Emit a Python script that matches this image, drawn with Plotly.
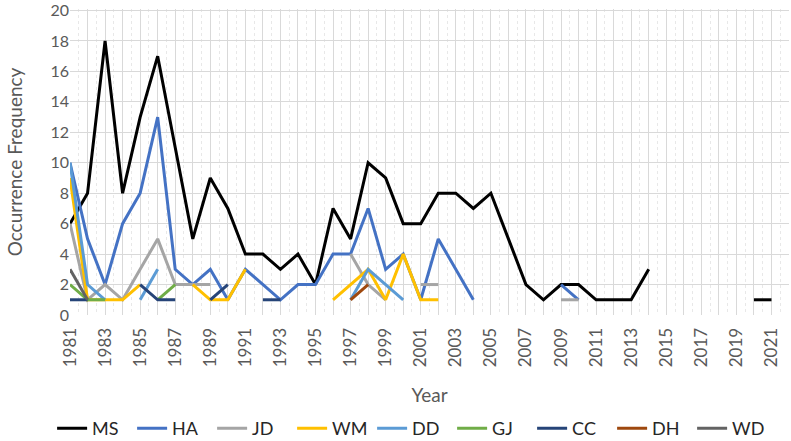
import plotly.graph_objects as go

years = list(range(1981, 2023))

def series(d):
    return [d.get(y, None) for y in years]

MS = {1981: 6, 1982: 8, 1983: 18, 1984: 8, 1985: 13, 1986: 17, 1987: 11, 1988: 5, 1989: 9, 1990: 7,
      1991: 4, 1992: 4, 1993: 3, 1994: 4, 1995: 2, 1996: 7, 1997: 5, 1998: 10, 1999: 9, 2000: 6,
      2001: 6, 2002: 8, 2003: 8, 2004: 7, 2005: 8, 2006: 5, 2007: 2, 2008: 1, 2009: 2, 2010: 2,
      2011: 1, 2012: 1, 2013: 1, 2014: 3, 2020: 1, 2021: 1}
HA = {1981: 10, 1982: 5, 1983: 2, 1984: 6, 1985: 8, 1986: 13, 1987: 3, 1988: 2, 1989: 3, 1990: 1,
      1991: 3, 1992: 2, 1993: 1, 1994: 2, 1995: 2, 1996: 4, 1997: 4, 1998: 7, 1999: 3, 2000: 4,
      2001: 1, 2002: 5, 2003: 3, 2004: 1, 2009: 2, 2010: 1}
JD = {1981: 6, 1982: 1, 1983: 2, 1984: 1, 1985: 3, 1986: 5, 1987: 2, 1988: 2, 1989: 2,
      1997: 4, 1998: 2, 1999: 1, 2001: 2, 2002: 2, 2009: 1, 2010: 1}
WM = {1981: 9, 1982: 1, 1983: 1, 1984: 1, 1985: 2, 1988: 2, 1989: 1, 1990: 1, 1991: 3,
      1996: 1, 1997: 2, 1998: 3, 1999: 1, 2000: 4, 2001: 1, 2002: 1}
DD = {1981: 10, 1982: 2, 1983: 1, 1985: 1, 1986: 3, 1997: 1, 1998: 3, 1999: 2, 2000: 1}
GJ = {1981: 2, 1982: 1, 1983: 1, 1986: 1, 1987: 2}
CC = {1981: 1, 1982: 1, 1985: 2, 1986: 1, 1987: 1, 1989: 1, 1990: 2, 1992: 1, 1993: 1}
DH = {1997: 1, 1998: 2}
WD = {1981: 3, 1982: 1}

names = ["MS", "HA", "JD", "WM", "DD", "GJ", "CC", "DH", "WD"]
data = [MS, HA, JD, WM, DD, GJ, CC, DH, WD]
colors = ["#000000", "#4472C4", "#A5A5A5", "#FFC000", "#5B9BD5", "#70AD47", "#264478", "#9E480E", "#636363"]

tick_years = list(range(1981, 2023))
tick_text = [str(y) if (y - 1981) % 2 == 0 and y <= 2021 else "" for y in tick_years]
y_ticks = list(range(0, 21, 2))

fig = go.Figure()
for n, d, c in zip(names, data, colors):
    fig.add_trace(go.Scatter(x=years, y=series(d), mode="lines", name=n,
                             line=dict(color=c, width=3), connectgaps=False))

fig.update_layout(
    width=791, height=441,
    margin=dict(l=70, r=2, t=9, b=126, autoexpand=False),
    paper_bgcolor="white", plot_bgcolor="white",
    font=dict(family="Lato, Calibri, sans-serif", color="#595959", size=16),
    showlegend=True,
    legend=dict(orientation="h", xref="container", x=0.521, xanchor="center",
                yref="container", y=0.028, yanchor="middle",
                font=dict(size=18, color="#262626"), entrywidth=35, entrywidthmode="pixels",
                tracegroupgap=0),
    xaxis=dict(range=[1981, 2022], tickvals=tick_years, ticktext=tick_text, tickangle=-90,
               showgrid=True, gridcolor="#D9D9D9", gridwidth=1,
               minor=dict(dtick=0.5, tick0=1981, showgrid=True, gridcolor="#E8E8E8", griddash="dot", gridwidth=1),
               showline=False, zeroline=False, ticks="outside", ticklen=5, tickcolor="rgba(0,0,0,0)",
               title=dict(text="Year", font=dict(size=19, color="#595959"), standoff=22),
               tickfont=dict(size=17, color="#595959")),
    yaxis=dict(range=[0, 20.1], tickvals=y_ticks, showgrid=True, gridcolor="#D9D9D9", gridwidth=1,
               zeroline=False, showline=False, ticks="", ticklabeloverflow="allow",
               title=dict(text="Occurrence Frequency", font=dict(size=19, color="#595959"), standoff=22),
               tickfont=dict(size=16, color="#595959")),
)

fig.write_html("out.html")
